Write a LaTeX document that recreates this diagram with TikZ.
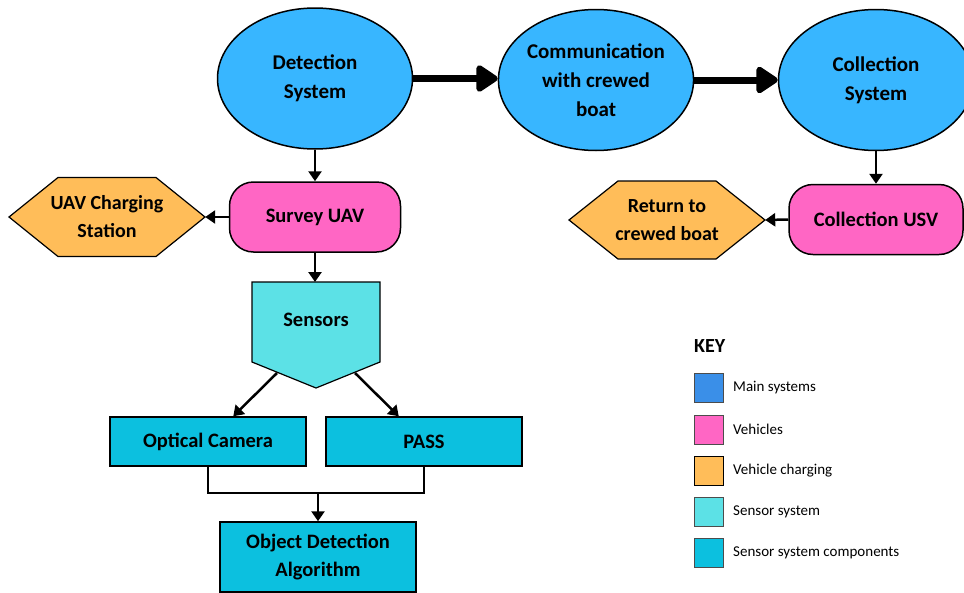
\documentclass[tikz,border=0pt]{standalone}
\usepackage{fontspec}
\setmainfont{Carlito}
\usetikzlibrary{arrows.meta,shapes.geometric}
\definecolor{mainblue}{HTML}{38B6FF}
\definecolor{keyblue}{HTML}{3A8FE8}
\definecolor{vehpink}{HTML}{FF66C4}
\definecolor{chargeorange}{HTML}{FFBD59}
\definecolor{sensorcyan}{HTML}{5CE1E6}
\definecolor{compteal}{HTML}{0CC0DF}

\begin{document}
\begin{tikzpicture}[x=1pt,y=-1pt,
        mainsys/.style = {ellipse,draw,line width=1.5pt,fill=mainblue,minimum width=195pt,minimum height=141pt,inner sep=0pt,align=center,font=\fontsize{21}{29}\selectfont\bfseries},
        vehicle/.style = {rectangle,rounded corners=24pt,draw,line width=1.5pt,fill=vehpink,minimum height=70pt,font=\fontsize{20.5}{28}\selectfont\bfseries},
        charging/.style = {rectangle,minimum width=196pt,minimum height=79pt,inner sep=0pt,align=center,font=\fontsize{20}{28}\selectfont\bfseries},
        comp/.style = {rectangle,draw,line width=1.5pt,fill=compteal,minimum width=196pt,align=center,font=\fontsize{20.5}{28}\selectfont\bfseries},
        arr/.style = {-{Triangle[length=10pt,width=13pt]},line width=2.5pt},
        bigarr/.style = {-{Triangle[length=24pt,width=30pt,round]},line width=7pt},
        keybox/.style = {rectangle,draw=black!70,line width=1pt,minimum size=29pt,inner sep=0pt},
        keytext/.style = {anchor=west,inner sep=0pt,font=\fontsize{15}{17}\selectfont}]
    \useasboundingbox (0,0) rectangle (964,592);

    % main systems
    \node[mainsys] (det) at (315,78.5) {Detection\\System};
    \node[mainsys] (comm) at (596,80) {Communication\\with crewed\\boat};
    \node[mainsys] (coll) at (876,80) {Collection\\System};
    \draw[bigarr] (det.east) -- (det.east -| comm.west);
    \draw[bigarr] (comm.east) -- (coll.west);

    % vehicles and charging
    \node[vehicle,minimum width=171pt] (uav) at (315,217) {Survey UAV};
    \node[vehicle,minimum width=174pt] (usv) at (876,219.5) {Collection USV};
    \draw[fill=chargeorange,line width=1.2pt] (9,217) -- (58,177.5) -- (156,177.5) -- (205,217) -- (156,256.5) -- (58,256.5) -- cycle;
    \node[charging] (uavcs) at (107,217) {UAV Charging\\Station};
    \draw[fill=chargeorange,line width=1.2pt] (569,220) -- (618,181) -- (716,181) -- (765,220) -- (716,259) -- (618,259) -- cycle;
    \node[charging] (ret) at (667,220) {Return to\\crewed boat};
    \draw[arr] (det.south) -- (uav.north);
    \draw[arr] (uav.west) -- (uavcs.east);
    \draw[arr] (coll.south) -- (usv.north);
    \draw[arr] (usv.west) -- (ret.east);

    % sensors
    \draw[fill=sensorcyan,line width=1.2pt] (252,282) -- (380,282) -- (380,362) -- (316,388) -- (252,362) -- cycle;
    \node[font=\fontsize{20.5}{28}\selectfont\bfseries] (sens) at (316,320) {Sensors};
    \coordinate (sensL) at (277,373);
    \coordinate (sensR) at (355,373);
    \draw[arr] (uav.south) -- (uav.south |- 0,282);

    \node[comp,minimum height=49pt] (opt) at (208,441.5) {Optical Camera};
    \node[comp,minimum height=49pt] (pass) at (424,441.5) {PASS};
    \node[comp,minimum height=70pt] (oda) at (318,557) {Object Detection\\Algorithm};
    \draw[arr] (sensL) -- (opt.45);
    \draw[arr] (sensR) -- (pass.135);
    \coordinate (join) at (318,493);
    \draw[line width=2.5pt] (opt.south) |- (join) -| (pass.south);
    \draw[arr] (join) -- (oda.north);

    % key
    \node[anchor=west,inner sep=0pt,font=\fontsize{20}{24}\selectfont\bfseries] (key) at (694,346) {KEY};
    \node[keybox,fill=keyblue] (k1) at (709,387.5) {};
    \node[keybox,fill=vehpink] (k2) at (709,429.5) {};
    \node[keybox,fill=chargeorange,draw=black] (k3) at (709,470.5) {};
    \node[keybox,fill=sensorcyan] (k4) at (709,512) {};
    \node[keybox,fill=compteal] (k5) at (709,553) {};
    \node[keytext] (t1) at (733,387.5) {Main systems};
    \node[keytext] (t2) at (733,429.5) {Vehicles};
    \node[keytext] (t3) at (733,470.5) {Vehicle charging};
    \node[keytext] (t4) at (733,512) {Sensor system};
    \node[keytext] (t5) at (733,553) {Sensor system components};
\end{tikzpicture}
\end{document}
